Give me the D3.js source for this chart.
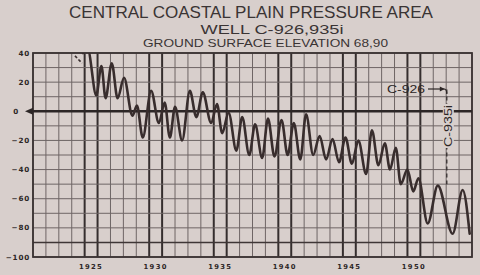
<!DOCTYPE html>
<html><head><meta charset="utf-8">
<script src="https://cdn.jsdelivr.net/npm/d3@7"></script>
<style>
html,body{margin:0;padding:0;background:#d8cfcc;}
svg{display:block;}
</style></head>
<body>
<svg id="c" width="480" height="275"></svg>
<script>
// ---- data ----
const titleLines = ["CENTRAL COASTAL PLAIN PRESSURE AREA", "WELL C-926,935i", "GROUND SURFACE ELEVATION 68,90"];
const yearLabels = [1925, 1930, 1935, 1940, 1945, 1950];
const yTickValues = [40, 20, 0, -20, -40, -60, -80, -100];
const gridYears = d3.range(1921, 1956);
const gridLevels = d3.range(-100, 41, 10);
const heavyYears = [1925, 1926, 1930, 1931, 1935, 1936, 1940, 1941, 1945, 1946, 1950, 1951];
const dashDates = [1924.25, 1924.8];
const dashLevels = [38, 33];
const dates = [1924.87, 1925.25, 1925.9, 1926.3, 1926.62, 1927.1, 1927.55, 1928.05, 1928.7, 1929.05, 1929.5,
  1930.15, 1930.75, 1931.2, 1931.6, 1932.0, 1932.55, 1933.15, 1933.65, 1934.15, 1934.8, 1935.25, 1935.65,
  1936.15, 1936.75, 1937.2, 1937.75, 1938.2, 1938.75, 1939.2, 1939.7, 1940.25, 1940.72, 1941.2, 1941.7,
  1942.15, 1942.7, 1943.2, 1943.7, 1944.2, 1944.7, 1945.2, 1945.7, 1946.2, 1946.8, 1947.25, 1947.75,
  1948.25, 1948.65, 1949.1, 1949.48, 1950.0, 1950.45, 1950.85, 1951.57, 1952.35, 1953.5, 1954.28, 1954.82];
const levels = [40, 42, 11, 31, 9, 33, 9, 23, -3, 4, -18,
  14, -8, 6, -18, 3, -20, 14, -4, 13, -8, 5, -15,
  -1, -27, -4, -30, -9, -32, -5, -31, -6, -30, -8, -33,
  -2, -30, -17, -33, -19, -35, -18, -36, -20, -43, -13, -37,
  -22, -40, -25, -50, -40, -55, -46, -77, -51, -84, -54, -84];
const wellA = "C-926", wellB = "C-935i";
const switchDate = 1953.05;

// ---- drawing ----
const svg = d3.select("#c");
const L = 33, R = 472, T = 53, B = 257;
const x = d3.scaleLinear().domain([1921, 1955]).range([L, R]);
const y = d3.scaleLinear().domain([-100, 40]).range([B, T]);
const ink = "#2c2626", gridCol = "#6e6565", bg = "#d8cfcc";

// titles
const tFont = "'Liberation Sans', Arial, sans-serif";
const tt = [
  {text: titleLines[0], cx: 251, y: 18.3, fs: 17, len: 364},
  {text: titleLines[1], cx: 272, y: 34, fs: 13.5, len: 143},
  {text: titleLines[2], cx: 265.5, y: 47.3, fs: 11, len: 245}
];
svg.selectAll("text.title").data(tt).join("text").attr("class", "title")
  .attr("x", d => d.cx - d.len / 2).attr("y", d => d.y)
  .attr("textLength", d => d.len).attr("lengthAdjust", "spacingAndGlyphs")
  .attr("font-family", tFont).attr("font-size", d => d.fs).attr("fill", "#3a3434")
  .text(d => d.text);

// grid
const g = svg.append("g");
g.selectAll("line.vy").data(gridYears).join("line").attr("class", "vy")
  .attr("x1", d => x(d)).attr("x2", d => x(d)).attr("y1", T).attr("y2", B)
  .attr("stroke", d => heavyYears.includes(d) ? "#352e2e" : gridCol)
  .attr("stroke-width", d => heavyYears.includes(d) ? 2 : 1);
g.selectAll("line.hy").data(gridLevels).join("line").attr("class", "hy")
  .attr("x1", L).attr("x2", R).attr("y1", d => y(d)).attr("y2", d => y(d))
  .attr("stroke", d => (d === -90) ? "#3e3636" : gridCol)
  .attr("stroke-width", d => (d === -90) ? 1.6 : 1);
// frame
g.append("rect").attr("x", L).attr("y", T).attr("width", R - L).attr("height", B - T)
  .attr("fill", "none").attr("stroke", "#3a3232").attr("stroke-width", 1.8);
// zero line + arrow
g.append("line").attr("x1", L).attr("x2", R).attr("y1", y(0)).attr("y2", y(0))
  .attr("stroke", ink).attr("stroke-width", 2.4);
g.append("path").attr("d", `M${L - 8},${y(0)} L${L},${y(0) - 3.5} L${L},${y(0) + 3.5} Z`).attr("fill", ink);

// y labels
const lblFont = "'DejaVu Sans', sans-serif";
svg.selectAll("text.yl").data(yTickValues).join("text").attr("class", "yl")
  .attr("x", d => d === 0 ? 19 : 30).attr("y", d => y(d) + 2.6)
  .attr("text-anchor", "end").attr("font-family", lblFont).attr("font-size", 7.2)
  .attr("font-weight", "bold").attr("letter-spacing", 0.8).attr("fill", ink)
  .text(d => d < 0 ? "\u2212" + Math.abs(d) : d);

// x labels
svg.selectAll("text.xl").data(yearLabels).join("text").attr("class", "xl")
  .attr("x", d => x(d + 0.5)).attr("y", 268.5).attr("text-anchor", "middle")
  .attr("font-family", lblFont).attr("font-size", 6.8).attr("font-weight", "bold")
  .attr("letter-spacing", 1.3).attr("fill", ink).text(d => d);

// clip
svg.append("clipPath").attr("id", "clip").append("rect")
  .attr("x", L).attr("y", T).attr("width", R - L).attr("height", B - T);

// hydrograph
const pts = dates.map((d, i) => [d, levels[i]]);
const line = d3.line().x(d => x(d[0])).y(d => y(d[1])).curve(d3.curveMonotoneX);
svg.append("path").attr("clip-path", "url(#clip)").attr("d", line(pts))
  .attr("fill", "none").attr("stroke", "#382d2d").attr("stroke-width", 2.6)
  .attr("stroke-linejoin", "round").attr("stroke-linecap", "round");
const dpts = dashDates.map((d, i) => [d, dashLevels[i]]);
svg.append("path").attr("d", d3.line().x(d => x(d[0])).y(d => y(d[1]))(dpts))
  .attr("fill", "none").attr("stroke", "#3a2f2f").attr("stroke-width", 1.6)
  .attr("stroke-dasharray", "3,2");

// annotations
const sx = x(switchDate);
svg.append("line").attr("x1", sx).attr("x2", sx).attr("y1", y(15)).attr("y2", y(-50))
  .attr("stroke", ink).attr("stroke-width", 1.2).attr("stroke-dasharray", "4,3");
svg.append("text").attr("x", 387).attr("y", 93).attr("textLength", 38).attr("lengthAdjust", "spacingAndGlyphs")
  .attr("font-family", tFont).attr("font-size", 11.5).attr("fill", ink).text(wellA);
svg.append("line").attr("x1", 428).attr("x2", sx - 3).attr("y1", 89).attr("y2", 89)
  .attr("stroke", ink).attr("stroke-width", 1.2);
svg.append("path").attr("d", `M${sx - 2},89 L${sx - 7},86.5 L${sx - 7},91.5 Z`).attr("fill", ink);
svg.append("path").attr("d", `M${sx - 3},89 Q${sx},89 ${sx},94`).attr("fill", "none")
  .attr("stroke", ink).attr("stroke-width", 1.2);
const tb = svg.append("g").attr("transform", `translate(${sx + 5},147) rotate(-90)`);
tb.append("rect").attr("x", -1).attr("y", -9).attr("width", 44).attr("height", 11).attr("fill", bg);
tb.append("text").attr("x", 0).attr("y", 0).attr("textLength", 42).attr("lengthAdjust", "spacingAndGlyphs")
  .attr("font-family", tFont).attr("font-size", 11).attr("fill", ink).text(wellB);
</script>
</body></html>
